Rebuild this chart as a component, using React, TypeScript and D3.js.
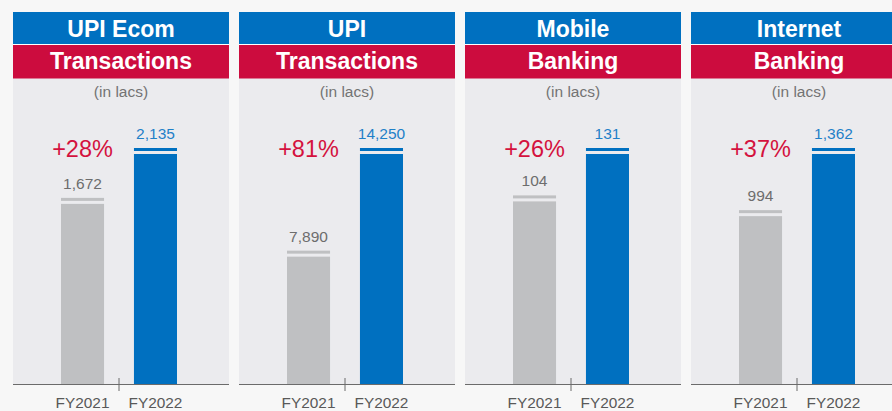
import * as d3 from "d3";

const titles = ["UPI Ecom", "UPI", "Mobile", "Internet"];
const subtitles = ["Transactions", "Transactions", "Banking", "Banking"];
const years = ["FY2021", "FY2022"];
const fy2021 = [1672, 7890, 104, 994];
const fy2022 = [2135, 14250, 131, 1362];
const growth = ["+28%", "+81%", "+26%", "+37%"];

const W = 892;
const H = 411;
const FONT = "'Liberation Sans', Arial, sans-serif";

const BLUE = "#0070c0";
const RED = "#cc0c3e";
const GREY_BAR = "#bfc0c2";
const PANEL_BG = "#ebebee";
const PAGE_BG = "#f7f7f7";

export default function App() {
  const panelX = d3
    .scaleBand<number>()
    .domain(titles.map((_, i) => i))
    .range([13, 13 + 4 * 226 - 10])
    .paddingInner(10 / 226);
  const pw = panelX.bandwidth();

  const baseY = 384;
  const headTop = 12;

  return (
    <div style={{ position: "fixed", left: 0, top: 0, width: W, height: H }}>
      <svg width={W} height={H} style={{ display: "block", fontFamily: FONT }}>
        <rect width={W} height={H} fill={PAGE_BG} />
        {titles.map((title, i) => {
          const x0 = panelX(i) || 0;
          const x = d3
            .scaleBand<string>()
            .domain(years)
            .range([x0 + 48, x0 + 164])
            .paddingInner(0.41);
          const vals = [fy2021[i], fy2022[i]];
          const y = d3
            .scaleLinear()
            .domain([0, d3.max(vals) || 1])
            .range([baseY, 154]);
          const bw = x.bandwidth();
          const tickX = (x(years[1]) || 0) - (x.step() * 0.41) / 2;
          return (
            <g key={title}>
              <rect x={x0} y={headTop} width={pw} height={baseY - headTop} fill={PANEL_BG} />
              <rect x={x0} y={headTop} width={pw} height={32} fill={BLUE} />
              <rect x={x0} y={headTop + 32} width={pw} height={1} fill="#ffffff" />
              <rect x={x0} y={headTop + 33} width={pw} height={33.5} fill={RED} />
              <text
                x={x0 + pw / 2}
                y={37}
                textAnchor="middle"
                fill="#ffffff"
                fontWeight="bold"
                fontSize={23}
              >
                {title}
              </text>
              <text
                x={x0 + pw / 2}
                y={69}
                textAnchor="middle"
                fill="#ffffff"
                fontWeight="bold"
                fontSize={23}
              >
                {subtitles[i]}
              </text>
              <text x={x0 + pw / 2} y={97} textAnchor="middle" fill="#737373" fontSize={15.5}>
                (in lacs)
              </text>
              {years.map((yr, j) => {
                const v = vals[j];
                const bx = x(yr) || 0;
                const top = y(v);
                const color = j === 0 ? GREY_BAR : BLUE;
                return (
                  <g key={yr}>
                    <rect x={bx} y={top} width={bw} height={baseY - top} fill={color} />
                    <rect x={bx} y={top - 6} width={bw} height={3} fill={color} />
                    <text
                      x={bx + bw / 2}
                      y={top - 15}
                      textAnchor="middle"
                      fill={j === 0 ? "#6d6d6d" : "#1f80c8"}
                      fontSize={15.5}
                    >
                      {d3.format(",")(v)}
                    </text>
                    <text
                      x={bx + bw / 2}
                      y={408}
                      textAnchor="middle"
                      fill="#595959"
                      fontSize={15.4}
                    >
                      {yr}
                    </text>
                  </g>
                );
              })}
              <text
                x={(x(years[0]) || 0) + bw / 2}
                y={157}
                textAnchor="middle"
                fill="#d4123e"
                fontSize={23.5}
              >
                {growth[i]}
              </text>
              <line x1={x0} x2={x0 + pw} y1={baseY + 0.5} y2={baseY + 0.5} stroke="#6b6b6b" strokeWidth={1} />
              <line x1={tickX} x2={tickX} y1={378} y2={391} stroke="#6b6b6b" strokeWidth={1} />
            </g>
          );
        })}
      </svg>
    </div>
  );
}
